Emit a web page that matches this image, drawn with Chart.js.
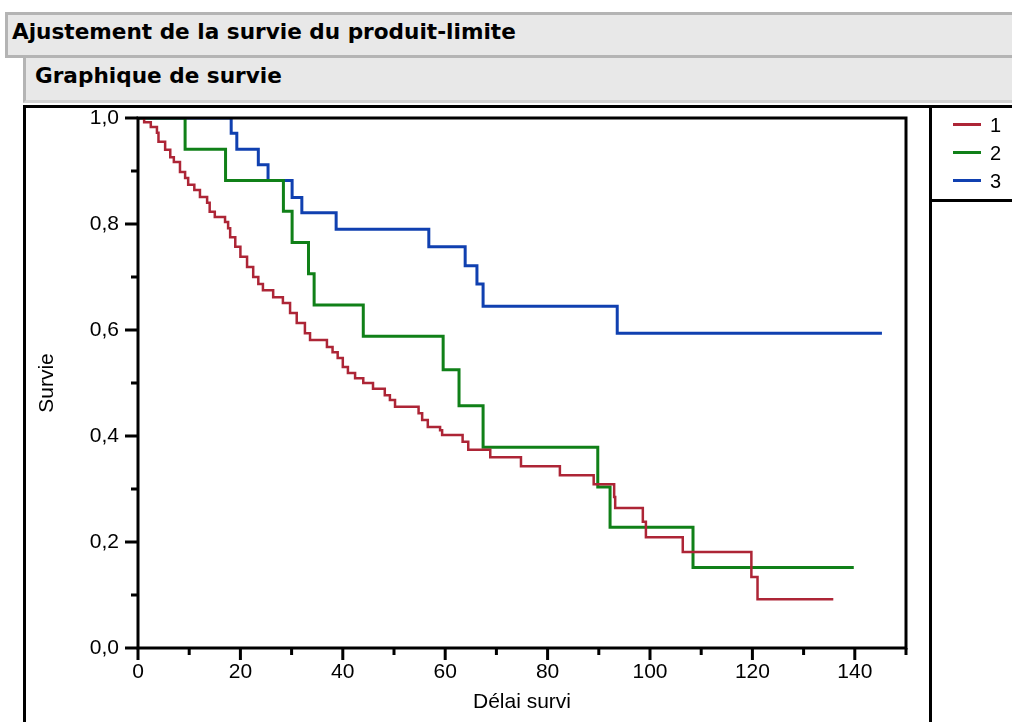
<!DOCTYPE html>
<html>
<head>
<meta charset="utf-8">
<script src="https://cdn.jsdelivr.net/npm/chart.js@4.4.1/dist/chart.umd.min.js"></script>
<style>
body { margin:0; width:1012px; height:722px; overflow:hidden; background:#fff; position:relative; font-family:"Liberation Sans", Arial, sans-serif; }
.bar1 { position:absolute; left:5px; top:12px; width:1010px; height:40px; background:#e8e8e8; border:3px solid #b4b4b4; border-right:none; }
.bar2 { position:absolute; left:23px; top:58px; width:990px; height:42px; background:#e8e8e8; border-left:3px solid #b4b4b4; border-bottom:3px solid #d2d2d2; }
.hd { position:absolute; font-family:"DejaVu Sans", sans-serif; font-weight:bold; font-size:21.6px; line-height:21px; color:#000; white-space:nowrap; }
.blk { position:absolute; background:#000; }
#wrap { position:absolute; left:26px; top:108px; width:986px; height:614px; }
.lg-line { position:absolute; left:953px; width:28px; height:3px; }
.lg-txt { position:absolute; left:990px; font-size:20px; line-height:20px; color:#000; }
</style>
</head>
<body>
<div class="bar1"></div>
<div class="bar2"></div>
<div class="hd" style="left:12px; top:21px;">Ajustement de la survie du produit-limite</div>
<div class="hd" style="left:35px; top:65px;">Graphique de survie</div>
<div class="blk" style="left:23px; top:105px; width:989px; height:3px;"></div>
<div class="blk" style="left:23px; top:105px; width:3px; height:617px;"></div>
<div class="blk" style="left:929px; top:105px; width:3px; height:617px;"></div>
<div class="blk" style="left:929px; top:199px; width:83px; height:3px;"></div>
<div id="wrap"><canvas id="survie" width="986" height="614"></canvas></div>
<div id="legend"></div>
<script>
// groupes
var groupLabels = ['1', '2', '3'];
var groupColors = ['#ad2536', '#108018', '#1040b0'];
var groupWidths = [2.5, 3, 3];

// groupe 1
var timesG1 = [0, 1.2, 2.5, 3.7, 4.0, 5.3, 6.3, 7.0, 8.2, 9.2, 9.8, 11.0, 12.1, 13.5, 14.0, 15.0, 17.0, 17.6, 18.0, 19.0,
  20.0, 21.3, 22.5, 23.5, 24.4, 26.4, 28.3, 29.7, 31.0, 32.6, 33.6, 36.9, 38.0, 39.0, 40.0, 41.0, 42.4, 44.0, 45.9, 48.2,
  49.2, 50.2, 54.8, 55.5, 56.6, 59.0, 59.4, 63.4, 64.5, 68.8, 74.8, 82.4, 89.0, 93.0, 93.2, 98.6, 99.2, 106.4, 119.8, 121.0, 135.8];
var survG1 = [1.0, 0.992, 0.983, 0.972, 0.955, 0.94, 0.926, 0.917, 0.898, 0.887, 0.874, 0.864, 0.851, 0.84, 0.823, 0.813, 0.804, 0.792, 0.775, 0.757,
  0.738, 0.719, 0.70, 0.687, 0.675, 0.662, 0.651, 0.632, 0.613, 0.594, 0.581, 0.568, 0.558, 0.547, 0.53, 0.519, 0.509, 0.5, 0.489, 0.477,
  0.468, 0.455, 0.443, 0.43, 0.417, 0.411, 0.402, 0.389, 0.374, 0.36, 0.343, 0.326, 0.309, 0.285, 0.264, 0.238, 0.209, 0.181, 0.134, 0.092, 0.092];

// groupe 2
var timesG2 = [0, 9.2, 17.1, 28.4, 30.1, 33.3, 34.4, 44.0, 59.6, 62.7, 67.4, 89.8, 92.2, 108.4, 139.8];
var survG2 = [1.0, 0.941, 0.882, 0.824, 0.765, 0.706, 0.647, 0.588, 0.525, 0.457, 0.379, 0.304, 0.228, 0.152, 0.152];

// groupe 3
var timesG3 = [0, 18.2, 19.3, 23.5, 25.4, 30.1, 32.0, 38.7, 56.8, 63.9, 66.2, 67.4, 93.6, 145.3];
var survG3 = [1.0, 0.971, 0.941, 0.912, 0.882, 0.85, 0.821, 0.79, 0.757, 0.721, 0.687, 0.645, 0.594, 0.594];

// graduations
var xTicks = [0, 20, 40, 60, 80, 100, 120, 140];
var xMinorTicks = [10, 30, 50, 70, 90, 110, 130, 150];
var yTicks = [0, 0.2, 0.4, 0.6, 0.8, 1.0];
var yMinorTicks = [0.1, 0.3, 0.5, 0.7, 0.9];

var allTimes = [timesG1, timesG2, timesG3];
var allSurv = [survG1, survG2, survG3];

var datasets = [];
for (var i = 0; i < groupLabels.length; i++) {
  var pts = [];
  for (var j = 0; j < allTimes[i].length; j++) {
    pts.push({x: allTimes[i][j], y: allSurv[i][j]});
  }
  datasets.push({
    label: groupLabels[i],
    data: pts,
    borderColor: groupColors[i],
    borderWidth: groupWidths[i],
    stepped: 'before',
    pointRadius: 0,
    fill: false
  });
}

// legende
var lg = '';
for (var k = 0; k < groupLabels.length; k++) {
  var yy = 123 + k * 28;
  lg += '<div class="lg-line" style="top:' + yy + 'px; background:' + groupColors[k] + ';"></div>';
  lg += '<div class="lg-txt" style="top:' + (yy - 8) + 'px;">' + groupLabels[k] + '</div>';
}
document.getElementById('legend').innerHTML = lg;

var frameTicks = {
  id: 'frameTicks',
  afterDraw: function(chart) {
    var ctx = chart.ctx, a = chart.chartArea;
    var xs = chart.scales.x, ys = chart.scales.y;
    ctx.save();
    ctx.strokeStyle = '#000';
    ctx.lineWidth = 3;
    ctx.strokeRect(a.left, a.top, a.right - a.left, a.bottom - a.top);
    ctx.beginPath();
    yTicks.forEach(function(v) { var p = ys.getPixelForValue(v); ctx.moveTo(a.left - 13, p); ctx.lineTo(a.left, p); });
    yMinorTicks.forEach(function(v) { var p = ys.getPixelForValue(v); ctx.moveTo(a.left - 7, p); ctx.lineTo(a.left, p); });
    xTicks.forEach(function(v) { var p = xs.getPixelForValue(v); ctx.moveTo(p, a.bottom); ctx.lineTo(p, a.bottom + 12); });
    xMinorTicks.forEach(function(v) { var p = xs.getPixelForValue(v); ctx.moveTo(p, a.bottom); ctx.lineTo(p, a.bottom + 7); });
    ctx.stroke();
    ctx.restore();
  }
};

var labelFont = {family: '"Liberation Sans", Arial, sans-serif', size: 21};

var chart = new Chart(document.getElementById('survie'), {
  type: 'line',
  data: {datasets: datasets},
  options: {
    responsive: false,
    animation: false,
    devicePixelRatio: 1,
    layout: {padding: {top: 10, right: 106, left: 0, bottom: 0}},
    plugins: {legend: {display: false}, tooltip: {enabled: false}},
    scales: {
      x: {
        type: 'linear', min: 0, max: 150,
        grid: {display: false, drawTicks: false},
        border: {display: false},
        afterBuildTicks: function(s) { s.ticks = xTicks.map(function(v) { return {value: v}; }); },
        afterFit: function(s) { s.height = 74; s.paddingLeft = 0; s.paddingRight = 0; },
        ticks: {color: '#000', font: labelFont, padding: 12, maxRotation: 0, autoSkip: false},
        title: {display: true, text: 'Délai survi', color: '#000', font: labelFont, padding: {top: 0, bottom: 7}}
      },
      y: {
        type: 'linear', min: 0, max: 1,
        grid: {display: false, drawTicks: false},
        border: {display: false},
        afterBuildTicks: function(s) { s.ticks = yTicks.map(function(v) { return {value: v}; }); },
        afterFit: function(s) { s.width = 112; s.paddingTop = 0; s.paddingBottom = 0; },
        ticks: {color: '#000', font: labelFont, padding: 19,
          callback: function(v) { return Number(v).toFixed(1).replace('.', ','); }},
        title: {display: true, text: 'Survie', color: '#000', font: labelFont, padding: {top: 9, bottom: 0}}
      }
    }
  },
  plugins: [frameTicks]
});
</script>
</body>
</html>
